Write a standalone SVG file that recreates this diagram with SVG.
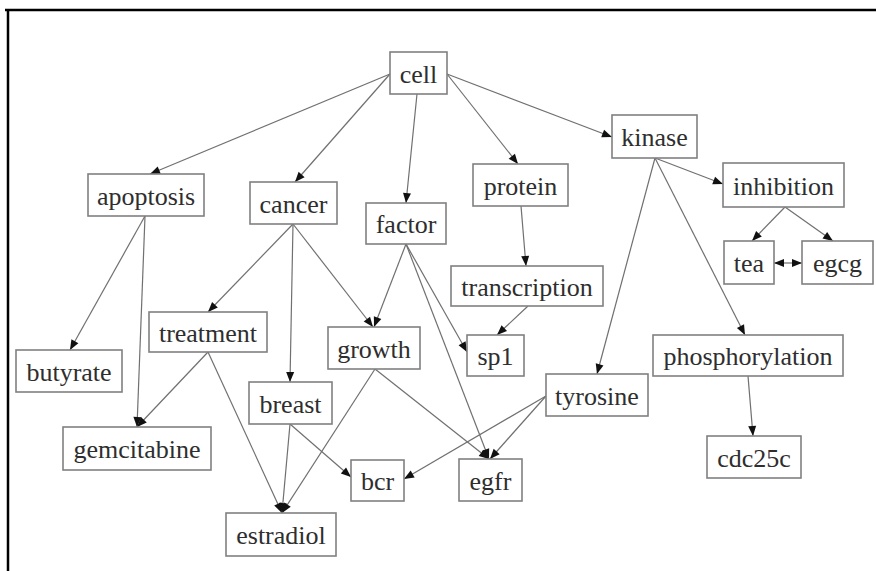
<svg xmlns="http://www.w3.org/2000/svg" width="876" height="571" viewBox="0 0 876 571">
<style>
.box{fill:#fff;stroke:#808080;stroke-width:1.6}
.lbl{font-family:"Liberation Serif","Times New Roman",serif;font-size:26px;fill:#2e2e2e;text-anchor:middle}
.e{stroke:#707070;stroke-width:1.2;fill:none;marker-end:url(#ah)}
</style>
<defs>
<marker id="ah" markerUnits="userSpaceOnUse" markerWidth="12" markerHeight="10" viewBox="0 0 12 10" refX="11" refY="5" orient="auto-start-reverse">
<path d="M1,1 L11,5 L1,9 Z" fill="#111"/>
</marker>
</defs>
<rect width="876" height="571" fill="#fff"/>
<g id="frame">
<line x1="5" y1="10" x2="876" y2="10" stroke="#000" stroke-width="2.5"/>
<line x1="8" y1="9" x2="8" y2="571" stroke="#000" stroke-width="2.5"/>
</g>
<g id="connectors">
<line class="e" x1="390" y1="74" x2="150" y2="174"/>
<line class="e" x1="390" y1="74" x2="295" y2="182"/>
<line class="e" x1="417" y1="94" x2="406" y2="203"/>
<line class="e" x1="447" y1="74" x2="518" y2="164"/>
<line class="e" x1="447" y1="74" x2="612" y2="137"/>
<line class="e" x1="655" y1="158" x2="723" y2="184"/>
<line class="e" x1="655" y1="158" x2="597" y2="374"/>
<line class="e" x1="655" y1="158" x2="745" y2="335"/>
<line class="e" x1="785" y1="207" x2="752" y2="241"/>
<line class="e" x1="785" y1="207" x2="833" y2="241"/>
<line class="e" x1="774" y1="263" x2="802" y2="263" style="marker-start:url(#ah)"/>
<line class="e" x1="145" y1="216" x2="70" y2="350"/>
<line class="e" x1="145" y1="216" x2="137" y2="427"/>
<line class="e" x1="293" y1="224" x2="208" y2="312"/>
<line class="e" x1="293" y1="224" x2="290" y2="382"/>
<line class="e" x1="293" y1="224" x2="373" y2="327"/>
<line class="e" x1="406" y1="244" x2="374" y2="327"/>
<line class="e" x1="406" y1="244" x2="467" y2="352"/>
<line class="e" x1="406" y1="244" x2="489" y2="459"/>
<line class="e" x1="521" y1="206" x2="526" y2="266"/>
<line class="e" x1="528" y1="306" x2="497" y2="335"/>
<line class="e" x1="208" y1="352" x2="137" y2="427"/>
<line class="e" x1="208" y1="352" x2="282" y2="513"/>
<line class="e" x1="290" y1="424" x2="282" y2="513"/>
<line class="e" x1="290" y1="424" x2="351" y2="477"/>
<line class="e" x1="375" y1="369" x2="282" y2="513"/>
<line class="e" x1="375" y1="369" x2="489" y2="459"/>
<line class="e" x1="546" y1="396" x2="404" y2="479"/>
<line class="e" x1="546" y1="396" x2="490" y2="459"/>
<line class="e" x1="748" y1="376" x2="753" y2="436"/>
</g>
<g id="cell"><rect class="box" x="390" y="52" width="57" height="42"/><text class="lbl" x="418.5" y="83">cell</text></g>
<g id="apoptosis"><rect class="box" x="88" y="174" width="116" height="42"/><text class="lbl" x="146" y="205">apoptosis</text></g>
<g id="cancer"><rect class="box" x="250" y="182" width="87" height="42"/><text class="lbl" x="293.5" y="213">cancer</text></g>
<g id="factor"><rect class="box" x="366" y="203" width="80" height="41"/><text class="lbl" x="406" y="233">factor</text></g>
<g id="protein"><rect class="box" x="473" y="164" width="95" height="42"/><text class="lbl" x="520.5" y="195">protein</text></g>
<g id="kinase"><rect class="box" x="612" y="115" width="85" height="43"/><text class="lbl" x="654.5" y="146">kinase</text></g>
<g id="inhibition"><rect class="box" x="723" y="163" width="121" height="44"/><text class="lbl" x="783.5" y="195">inhibition</text></g>
<g id="tea"><rect class="box" x="724" y="241" width="50" height="43"/><text class="lbl" x="749" y="272">tea</text></g>
<g id="egcg"><rect class="box" x="802" y="241" width="71" height="43"/><text class="lbl" x="837.5" y="272">egcg</text></g>
<g id="transcription"><rect class="box" x="451" y="266" width="152" height="40"/><text class="lbl" x="527" y="296">transcription</text></g>
<g id="treatment"><rect class="box" x="149" y="312" width="118" height="40"/><text class="lbl" x="208" y="342">treatment</text></g>
<g id="butyrate"><rect class="box" x="16" y="350" width="106" height="42"/><text class="lbl" x="69" y="381">butyrate</text></g>
<g id="growth"><rect class="box" x="328" y="327" width="92" height="42"/><text class="lbl" x="374" y="358">growth</text></g>
<g id="sp1"><rect class="box" x="467" y="335" width="57" height="41"/><text class="lbl" x="495.5" y="365">sp1</text></g>
<g id="phosphorylation"><rect class="box" x="653" y="335" width="190" height="41"/><text class="lbl" x="748" y="365">phosphorylation</text></g>
<g id="breast"><rect class="box" x="249" y="382" width="83" height="42"/><text class="lbl" x="290.5" y="413">breast</text></g>
<g id="tyrosine"><rect class="box" x="546" y="374" width="102" height="42"/><text class="lbl" x="597" y="405">tyrosine</text></g>
<g id="gemcitabine"><rect class="box" x="63" y="427" width="148" height="43"/><text class="lbl" x="137" y="458">gemcitabine</text></g>
<g id="cdc25c"><rect class="box" x="707" y="436" width="94" height="42"/><text class="lbl" x="754" y="467">cdc25c</text></g>
<g id="bcr"><rect class="box" x="351" y="460" width="53" height="41"/><text class="lbl" x="377.5" y="490">bcr</text></g>
<g id="egfr"><rect class="box" x="459" y="459" width="63" height="42"/><text class="lbl" x="490.5" y="490">egfr</text></g>
<g id="estradiol"><rect class="box" x="226" y="513" width="110" height="43"/><text class="lbl" x="281" y="544">estradiol</text></g>
</svg>
